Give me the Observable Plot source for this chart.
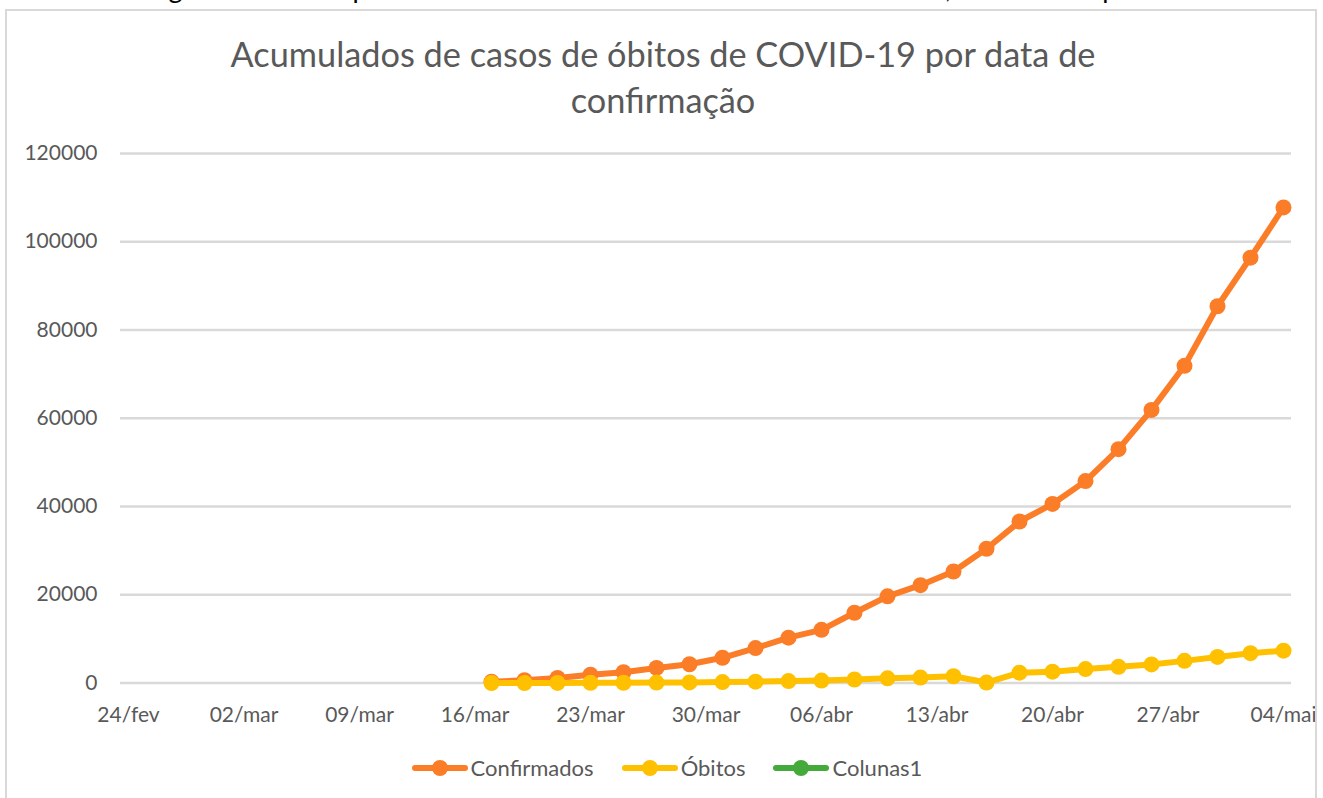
<!DOCTYPE html>
<html>
<head>
<meta charset="utf-8">
<script src="https://cdn.jsdelivr.net/npm/d3@7"></script>
<script src="https://cdn.jsdelivr.net/npm/@observablehq/plot@0.6"></script>
<style>
  html, body { margin: 0; padding: 0; background: #fff; overflow: hidden; }
  #wrap { position: relative; width: 1323px; height: 798px; overflow: hidden; font-family: Lato, "Open Sans", sans-serif; }
  #chart { position: absolute; left: 0; top: 0; }
  #frame { position: absolute; left: 5px; top: 9px; width: 1312px; height: 820px; box-sizing: border-box; border: 2.5px solid #d9d9d9; pointer-events: none; }
  #question { position: absolute; left: 0; width: 1323px; top: -27px; text-align: center; font-size: 27px; color: #000; white-space: nowrap; line-height: 30px; }
  .title { position: absolute; left: 0; width: 1326px; text-align: center; font-size: 34.3px; color: #595959; white-space: nowrap; line-height: 40px; }
  #legend { position: absolute; left: 0; width: 1334px; top: 756px; display: flex; justify-content: center; gap: 28px; font-size: 22px; color: #595959; line-height: 24px; }
  .item { display: flex; align-items: center; gap: 3px; }
  .sw { position: relative; width: 56px; height: 18px; }
  .sw .ln { position: absolute; left: 0; right: 0; top: 6px; height: 6px; border-radius: 3px; }
  .sw .dt { position: absolute; left: 20px; top: 1px; width: 16px; height: 16px; border-radius: 50%; }
</style>
</head>
<body>
<div id="wrap">
  <div id="chart"></div>
  <div id="question">O gráfico abaixo apresenta o número de casos confirmados no Brasil, analise e responda:</div>
  <div class="title" style="top:34px">Acumulados de casos de óbitos de COVID-19 por data de</div>
  <div class="title" style="top:80px">confirmação</div>
  <div id="legend"></div>
  <div id="frame"></div>
</div>
<script>
// ---- data ----
const dates = ["2020-03-17","2020-03-19","2020-03-21","2020-03-23","2020-03-25","2020-03-27","2020-03-29","2020-03-31",
  "2020-04-02","2020-04-04","2020-04-06","2020-04-08","2020-04-10","2020-04-12","2020-04-14","2020-04-16",
  "2020-04-18","2020-04-20","2020-04-22","2020-04-24","2020-04-26","2020-04-28","2020-04-30","2020-05-02","2020-05-04"];
const confirmados = [291, 621, 1128, 1891, 2433, 3417, 4256, 5717, 7910, 10278, 12056, 15927, 19638, 22169, 25262,
  30425, 36599, 40581, 45757, 52995, 61888, 71886, 85380, 96396, 107780];
const obitos = [1, 6, 18, 34, 57, 92, 136, 201, 299, 432, 553, 800, 1056, 1223, 1532,
  100, 2347, 2575, 3153, 3670, 4205, 5017, 5901, 6750, 7321];
const seriesNames = ["Confirmados", "Óbitos", "Colunas1"];
const seriesColors = ["#fb7d28", "#ffc000", "#44aa3c"];
const tickDates = ["2020-02-24","2020-03-02","2020-03-09","2020-03-16","2020-03-23","2020-03-30","2020-04-06",
  "2020-04-13","2020-04-20","2020-04-27","2020-05-04"];
const tickLabels = ["24/fev","02/mar","09/mar","16/mar","23/mar","30/mar","06/abr","13/abr","20/abr","27/abr","04/mai"];
const yTicks = [0, 20000, 40000, 60000, 80000, 100000, 120000];

// ---- build ----
const day = 864e5;
const conf = dates.map((d, i) => ({date: new Date(d), value: confirmados[i]}));
const obit = dates.map((d, i) => ({date: new Date(d), value: obitos[i]}));
const tDates = tickDates.map(d => new Date(d));
const labelMap = new Map(tDates.map((d, i) => [+d, tickLabels[i]]));
const x0 = new Date(+tDates[0] - 0.485 * day);
const x1 = new Date(+tDates[tDates.length - 1] + 0.485 * day);

const plot = Plot.plot({
  width: 1323,
  height: 798,
  marginLeft: 120,
  marginRight: 32,
  marginTop: 153,
  marginBottom: 115.5,
  style: {background: "none", fontFamily: "Lato, 'Open Sans', sans-serif", fontSize: "21px", color: "#595959"},
  x: {type: "utc", domain: [x0, x1]},
  y: {domain: [0, 120000]},
  marks: [
    Plot.gridY(yTicks, {stroke: "#d9d9d9", strokeOpacity: 1, strokeWidth: 2.5}),
    Plot.axisY(yTicks, {tickSize: 0, tickPadding: 23, tickFormat: d => String(d), label: null}),
    Plot.axisX(tDates, {tickSize: 0, tickPadding: 24, tickFormat: d => labelMap.get(+d), label: null}),
    Plot.line(conf, {x: "date", y: "value", stroke: seriesColors[0], strokeWidth: 6, strokeLinejoin: "round", strokeLinecap: "round"}),
    Plot.dot(conf, {x: "date", y: "value", r: 8, fill: seriesColors[0], stroke: "none"}),
    Plot.line(obit, {x: "date", y: "value", stroke: seriesColors[1], strokeWidth: 6, strokeLinejoin: "round", strokeLinecap: "round"}),
    Plot.dot(obit, {x: "date", y: "value", r: 8, fill: seriesColors[1], stroke: "none"})
  ]
});
document.getElementById("chart").appendChild(plot);

// legend
const legend = document.getElementById("legend");
seriesNames.forEach((name, i) => {
  const it = document.createElement("div");
  it.className = "item";
  it.innerHTML = `<div class="sw"><div class="ln" style="background:${seriesColors[i]}"></div><div class="dt" style="background:${seriesColors[i]}"></div></div><span>${name}</span>`;
  legend.appendChild(it);
});
</script>
</body>
</html>
